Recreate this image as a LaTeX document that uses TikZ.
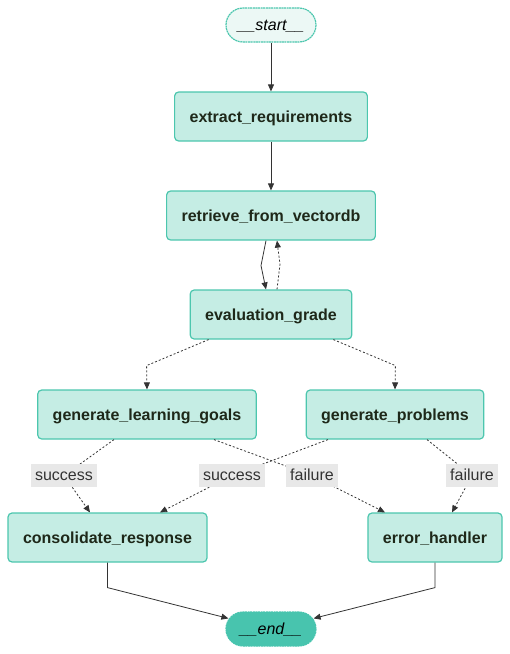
\documentclass[tikz,border=0pt]{standalone}
\usepackage{fontspec}
\setmainfont{Liberation Sans}
\usepackage{tikz}
\usepackage{xcolor}
\usetikzlibrary{positioning,arrows.meta}
\definecolor{c_fill}{RGB}{197,237,228}
\definecolor{c_border}{RGB}{76,198,174}
\definecolor{c_start}{RGB}{236,248,245}
\definecolor{c_end}{RGB}{72,196,174}
\definecolor{c_text}{RGB}{30,40,25}
\definecolor{c_line}{RGB}{51,51,51}
\definecolor{c_label}{RGB}{232,232,232}
\tikzset{c-node/.style={rectangle, rounded corners=4pt, minimum height=49pt, inner xsep=15pt, text height=12pt, text depth=1pt, draw=c_border, line width=1.2pt, fill=c_fill, text=c_text, font=\fontsize{16}{19}\selectfont\bfseries},
c-term/.style={rectangle, rounded corners=17pt, minimum width=90pt, minimum height=34pt, text height=12pt, text depth=1pt, draw=c_border, line width=1.2pt, dash pattern=on 2pt off 0.6pt, text=black, font=\fontsize{16}{19}\selectfont\itshape},
c-label/.style={rectangle, fill=c_label, text=c_line, inner xsep=4pt, inner ysep=2pt, text height=12pt, text depth=2pt, minimum height=23pt, font=\fontsize{16}{19}\selectfont},
arrow/.style={line width=0.8pt, draw=c_line, ->, >={Triangle[length=7pt,width=6pt]}},
dotarrow/.style={arrow, dash pattern=on 2pt off 2pt}}

\begin{document}
\begin{tikzpicture}[node distance = 99pt]
\useasboundingbox (-271pt,25pt) rectangle (239pt,-629pt);
\node (start) [c-term, fill=c_start] at (0,0) {\_\_start\_\_};
\node (extract) [c-node, below of=start, yshift=7.5pt] {extract\_requirements};
\node (retrieve) [c-node, below of=extract] {retrieve\_from\_vectordb};
\node (grade) [c-node, below of=retrieve] {evaluation\_grade};
\node (goals) [c-node, below of=grade, xshift=-124pt, yshift=-1pt] {generate\_learning\_goals};
\node (problems) [c-node, below of=grade, xshift=124pt, yshift=-1pt] {generate\_problems};
\node (consolidate) [c-node, below of=goals, xshift=-39.5pt, yshift=-24pt] {consolidate\_response};
\node (handler) [c-node, below of=problems, xshift=40pt, yshift=-24pt] {error\_handler};
\node (end) [c-term, fill=c_end, draw=c_end, below of=consolidate, xshift=163.5pt, yshift=7.5pt] {\_\_end\_\_};
\draw [arrow] (start) -- (extract);
\draw [arrow] (extract) -- (retrieve);
\draw [arrow] ([xshift=-5pt]retrieve.south) -- ++(-5pt,-25pt) -- ([xshift=-5pt]grade.north);
\draw [dotarrow] ([xshift=6pt]grade.north) -- ++(3pt,25pt) -- ([xshift=6pt]retrieve.south);
\draw [dotarrow] ([xshift=19pt]grade.south west) -- ++(-62pt,-26pt) -- (goals.north);
\draw [dotarrow] ([xshift=-19pt]grade.south east) -- ++(62pt,-26pt) -- (problems.north);
\draw [dotarrow] ([xshift=-33pt]goals.south) -- ++(-50pt,-36pt) node[c-label] {success} -- ([xshift=-17.5pt]consolidate.north);
\draw [dotarrow] ([xshift=67pt]goals.south) -- ++(98pt,-36pt) node[c-label] {failure} -- ([xshift=-50pt]handler.north);
\draw [dotarrow] ([xshift=-67pt]problems.south) -- ++(-96pt,-36pt) node[c-label] {success} -- ([xshift=52.5pt]consolidate.north);
\draw [dotarrow] ([xshift=32pt]problems.south) -- ++(45pt,-36pt) node[c-label] {failure} -- ([xshift=17pt]handler.north);
\draw [arrow] (consolidate.south) -- ++(0,-25pt) -- ([shift={(3pt,-7pt)}]end.north west);
\draw [arrow] (handler.south) -- ++(0,-25pt) -- ([shift={(-3pt,-7pt)}]end.north east);
\end{tikzpicture}
\end{document}
